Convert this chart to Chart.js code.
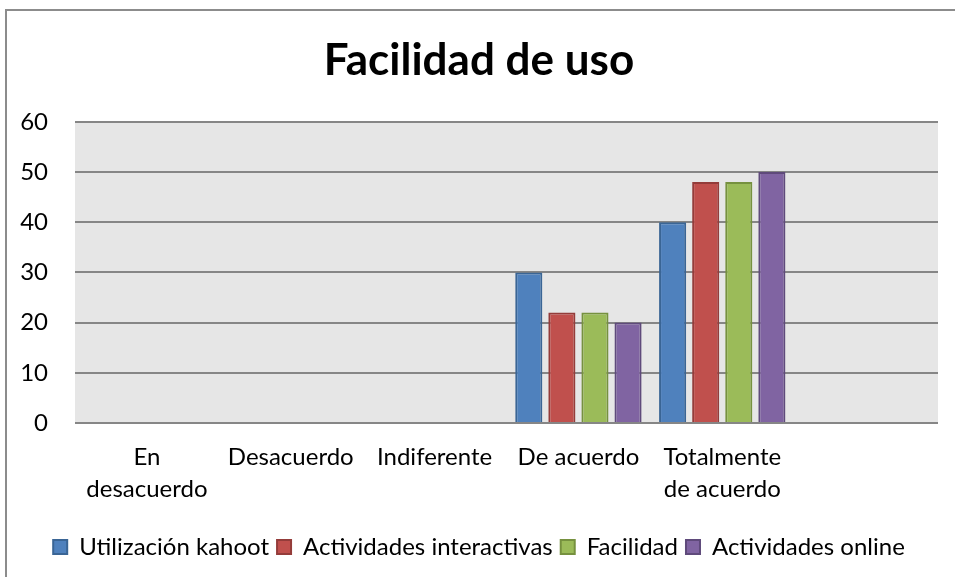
<!DOCTYPE html>
<html>
<head>
<meta charset="utf-8">
<script src="https://cdn.jsdelivr.net/npm/chart.js@4.4.0/dist/chart.umd.min.js"></script>
<style>
  html, body { margin: 0; padding: 0; background: #fff; }
  #wrap { position: relative; width: 955px; height: 577px; overflow: hidden; }
  #frame { position: absolute; left: 5px; top: 9px; width: 1000px; height: 600px;
           border-left: 2px solid #8c8c8c; border-top: 2px solid #8c8c8c; }
  #barChart { position: absolute; left: 0; top: 0; }
</style>
</head>
<body>
<div id="wrap">
  <div id="frame"></div>
  <canvas id="barChart" width="955" height="577"></canvas>
</div>
<script>
// categories and series
var categories = [['En', 'desacuerdo'], 'Desacuerdo', 'Indiferente', 'De acuerdo', ['Totalmente', 'de acuerdo'], ''];
var kahoot = [0, 0, 0, 30, 40, null];
var interactivas = [0, 0, 0, 22, 48, null];
var facilidad = [0, 0, 0, 22, 48, null];
var online = [0, 0, 0, 20, 50, null];
var yTicks = [0, 10, 20, 30, 40, 50, 60];

var fontFamily = 'Lato, "Open Sans", sans-serif';

// grey background behind the plot area
var plotBackground = {
    id: 'plotBackground',
    beforeDraw: function(chart) {
        var a = chart.chartArea;
        var c = chart.ctx;
        c.save();
        c.fillStyle = '#e6e6e6';
        c.fillRect(a.left, a.top, a.right - a.left, a.bottom - a.top);
        c.restore();
    }
};

function series(label, values, fill, border) {
    return {
        label: label,
        data: values,
        backgroundColor: fill,
        borderColor: border,
        borderWidth: 2,
        borderSkipped: 'bottom',
        barPercentage: 0.82,
        categoryPercentage: 0.92
    };
}

var ctx = document.getElementById('barChart').getContext('2d');

var myBarChart = new Chart(ctx, {
    type: 'bar',
    data: {
        labels: categories,
        datasets: [
            series('Utilización kahoot', kahoot, '#4f81bd', '#3a6595'),
            series('Actividades interactivas', interactivas, '#c0504d', '#943c3a'),
            series('Facilidad', facilidad, '#9bbb59', '#76913f'),
            series('Actividades online', online, '#8064a2', '#5f4a7b')
        ]
    },
    options: {
        responsive: false,
        animation: false,
        layout: { padding: { left: 20, right: 17, top: 10, bottom: 8 } },
        plugins: {
            title: {
                display: true,
                text: 'Facilidad de uso',
                color: '#000',
                font: { family: fontFamily, size: 44, weight: 'bold' },
                padding: { top: 24, bottom: 35 }
            },
            legend: {
                position: 'bottom',
                labels: {
                    color: '#000',
                    font: { family: fontFamily, size: 24 },
                    boxWidth: 14,
                    boxHeight: 14,
                    padding: 8
                }
            },
            tooltip: { enabled: false }
        },
        scales: {
            x: {
                grid: { display: false, drawTicks: false },
                border: { display: false },
                afterFit: function(axis) {
                    axis.height = 104;
                },
                ticks: {
                    color: '#000',
                    font: { family: fontFamily, size: 24, lineHeight: 1.33 },
                    maxRotation: 0,
                    autoSkip: false,
                    padding: 18
                }
            },
            y: {
                min: 0,
                max: 60,
                afterBuildTicks: function(axis) {
                    axis.ticks = yTicks.map(function(v) { return { value: v }; });
                },
                afterFit: function(axis) {
                    axis.width = 55;
                },
                grid: { color: '#868686', lineWidth: 2, drawTicks: false },
                border: { display: false },
                ticks: {
                    color: '#000',
                    font: { family: fontFamily, size: 24 },
                    padding: 27
                }
            }
        }
    },
    plugins: [plotBackground]
});
</script>
</body>
</html>
